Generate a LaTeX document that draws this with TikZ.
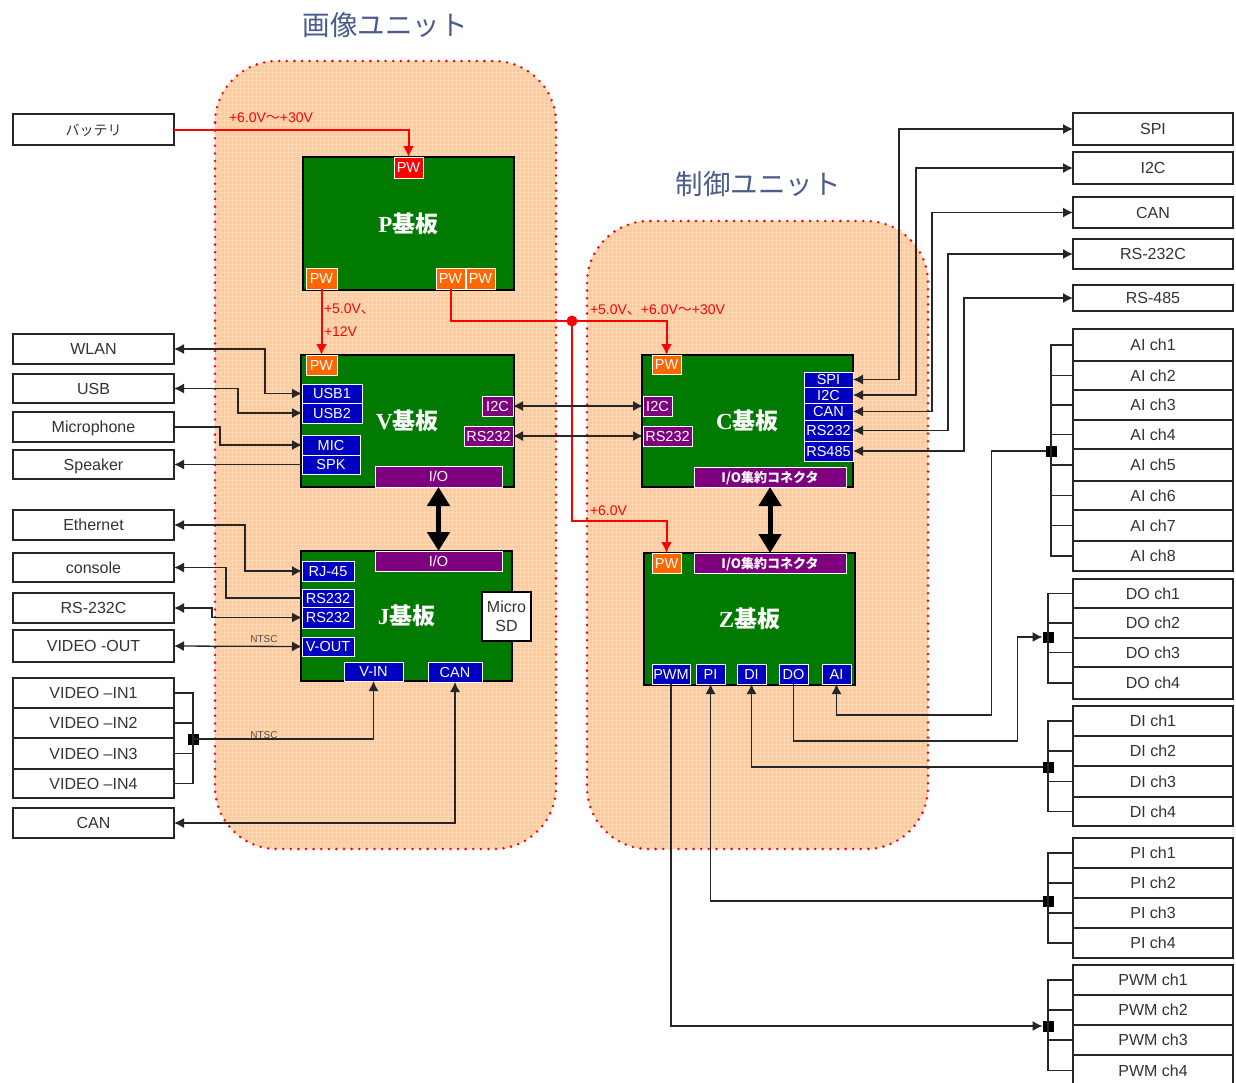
\documentclass[tikz,border=0pt]{standalone}
\usepackage{fontspec}
\usetikzlibrary{arrows.meta}
\setmainfont{Liberation Sans}
\newfontfamily\cjk{Noto Sans CJK JP}
\newfontfamily\srf{Liberation Serif}
\newcommand\fs[1]{\fontsize{#1}{#1}\selectfont}
\newcommand\brd[1]{{\fs{23}\bfseries\srf #1\cjk 基板}}
\definecolor{unitfill}{HTML}{FDCB9D}
\definecolor{boardg}{HTML}{007A00}
\definecolor{portb}{HTML}{0000C0}
\definecolor{portp}{HTML}{7F007F}
\definecolor{porto}{HTML}{FF6600}
\definecolor{titlec}{HTML}{4A5B8C}
\newcommand\bx[7][]{%
  \pgfmathsetmacro\bxw{#5-#3}\pgfmathsetmacro\bxh{#6-#4}%
  \node[#1,anchor=north west,minimum width=\bxw pt,minimum height=\bxh pt] (#2) at (#3,#4) {#7};}
\newcommand\unitdeco[1]{%
  \begin{scope}
    \clip[rounded corners=62pt] (#1.north west) rectangle (#1.south east);
    \draw[gridline] (#1.north west) grid (#1.south east);
  \end{scope}
  \draw[unitline] (#1.north west) rectangle (#1.south east);}
\tikzset{
  base/.style={inner sep=0pt,outer sep=0pt,align=center},
  unit/.style={base,fill=unitfill,rounded corners=62pt},
  unitline/.style={draw=red,line width=2.8pt,line cap=round,dash pattern=on 0pt off 7.6pt,rounded corners=62pt},
  gridline/.style={draw=white,opacity=.22,line width=1pt,step=4pt},
  board/.style={base,draw=black,fill=boardg,line width=1.4pt,text=white},
  extbox/.style={base,draw=black!85,fill=white,line width=1.5pt,font=\fs{16},text=black!80,text height=11.5pt,text depth=0pt},
  port/.style={base,draw=white,line width=.9pt,text=white,font=\fs{14.5},text height=10.4pt,text depth=0pt},
  blue port/.style={port,fill=portb},
  purple port/.style={port,fill=portp},
  orange port/.style={port,fill=porto},
  red port/.style={port,fill=red},
  white port/.style={base,draw=black,fill=white,line width=1.4pt,text=black!80,font=\fs{16}},
  busdot/.style={base,fill=black,minimum size=11pt},
  reddot/.style={base,circle,fill=red,minimum size=11pt},
  conn/.style={draw=black!85,line width=1.3pt},
  both/.style={conn,{Latex[length=10pt,width=10pt]}-{Latex[length=10pt,width=10pt]}},
  tohead/.style={conn,-{Latex[length=10pt,width=10pt]}},
  pwr/.style={draw=red,line width=2pt,-{Latex[length=11pt,width=11pt]}},
  pwrplain/.style={draw=red,line width=2pt},
  bus/.style={draw=black,{Triangle[length=19pt,width=22pt]}-{Triangle[length=19pt,width=22pt]},line width=5pt},
  redlab/.style={base,text=red,font=\fs{14},anchor=west},
  ntsc/.style={base,text=black!70,font=\fs{10}},
  title/.style={base,text=titlec,font=\cjk\fs{27.5}}
}
\begin{document}
\begin{tikzpicture}[x=1pt,y=-1pt]
\useasboundingbox (0,0) rectangle (1236,1082);
\clip (0,0) rectangle (1236,1082);
% units
\bx[unit]{unitL}{215}{61}{556}{849}{}
\bx[unit]{unitR}{587}{221}{928}{849}{}
\unitdeco{unitL}
\unitdeco{unitR}
\node[title] (tL) at (385,25) {画像ユニット};
\node[title] (tR) at (758,184) {制御ユニット};
% left external
\bx[extbox,font=\cjk\fs{14}]{bat}{13}{114}{174}{145}{バッテリ}
\bx[extbox]{wlan}{13}{334}{174}{364}{WLAN}
\bx[extbox]{usb}{13}{374}{174}{403}{USB}
\bx[extbox]{mic}{13}{412}{174}{442}{Microphone}
\bx[extbox]{spk}{13}{450}{174}{479}{Speaker}
\bx[extbox]{eth}{13}{510}{174}{540}{Ethernet}
\bx[extbox]{con}{13}{553}{174}{582}{console}
\bx[extbox]{rsl}{13}{593}{174}{623}{RS-232C}
\bx[extbox]{vou}{13}{630}{174}{662}{VIDEO -OUT}
\bx[extbox]{vi1}{13}{678}{174}{708}{VIDEO –IN1}
\bx[extbox]{vi2}{13}{708}{174}{738}{VIDEO –IN2}
\bx[extbox]{vi3}{13}{738}{174}{769}{VIDEO –IN3}
\bx[extbox]{vi4}{13}{769}{174}{798}{VIDEO –IN4}
\bx[extbox]{canl}{13}{808}{174}{838}{CAN}
% right external
\bx[extbox]{rspi}{1073}{113}{1233}{145}{SPI}
\bx[extbox]{ri2c}{1073}{152}{1233}{184}{I2C}
\bx[extbox]{rcan}{1073}{197}{1233}{228}{CAN}
\bx[extbox]{r232}{1073}{239}{1233}{269}{RS-232C}
\bx[extbox]{r485}{1073}{285}{1233}{311}{RS-485}
\foreach \i/\a/\b in {1/329/361,2/361/390,3/390/420,4/420/449,5/449/481,6/481/510,7/510/541,8/541/571}
  {\bx[extbox]{ai\i}{1073}{\a}{1233}{\b}{AI ch\i}}
\foreach \i/\a/\b in {1/579/608,2/608/638,3/638/667,4/667/699}
  {\bx[extbox]{do\i}{1073}{\a}{1233}{\b}{DO ch\i}}
\foreach \i/\a/\b in {1/706/736,2/736/766,3/766/797,4/797/826}
  {\bx[extbox]{di\i}{1073}{\a}{1233}{\b}{DI ch\i}}
\foreach \i/\a/\b in {1/838/868,2/868/898,3/898/928,4/928/958}
  {\bx[extbox]{pi\i}{1073}{\a}{1233}{\b}{PI ch\i}}
\foreach \i/\a/\b in {1/965/995,2/995/1025,3/1025/1055,4/1055/1086}
  {\bx[extbox]{pm\i}{1073}{\a}{1233}{\b}{PWM ch\i}}
% P board
\bx[board]{bP}{303}{157}{514}{290}{\brd{P}}
\bx[red port]{pwP}{394}{157}{423}{178}{PW}
\bx[orange port]{pwP1}{306}{268}{337}{289}{PW}
\bx[orange port]{pwP2}{436}{268}{465}{289}{PW}
\bx[orange port]{pwP3}{466}{268}{495}{289}{PW}
% V board
\bx[board]{bV}{301}{355}{514}{487}{\brd{V}}
\bx[orange port]{pwV}{306}{355}{337}{375}{PW}
\bx[blue port]{usb1}{302}{384}{362}{403}{USB1}
\bx[blue port]{usb2}{302}{403}{362}{423}{USB2}
\bx[blue port]{vmic}{302}{435}{360}{455}{MIC}
\bx[blue port]{vspk}{302}{455}{360}{474}{SPK}
\bx[purple port]{vi2c}{482}{396}{513}{416}{I2C}
\bx[purple port]{v232}{464}{426}{513}{446}{RS232}
\bx[purple port]{vio}{375}{466}{502}{487}{I/O}
% J board
\bx[board]{bJ}{301}{551}{512}{681}{\brd{J}}
\bx[purple port]{jio}{375}{551}{502}{571}{I/O}
\bx[blue port]{rj45}{302}{561}{354}{581}{RJ-45}
\bx[blue port]{j1}{302}{589}{354}{607}{RS232}
\bx[blue port]{j2}{302}{607}{354}{628}{RS232}
\bx[blue port]{jvo}{302}{637}{354}{656}{V-OUT}
\bx[blue port]{jvi}{344}{662}{403}{681}{V-IN}
\bx[blue port]{jcan}{428}{662}{482}{682}{CAN}
\bx[white port]{sd}{482}{592}{531}{641}{Micro\\[3pt]SD}
% C board
\bx[board]{bC}{642}{355}{853}{487}{\brd{C}}
\bx[orange port]{pwC}{652}{355}{681}{374}{PW}
\bx[purple port]{ci2c}{643}{396}{672}{416}{I2C}
\bx[purple port]{c232}{643}{426}{692}{446}{RS232}
\bx[purple port,font=\cjk\fs{13}\bfseries]{cio}{694}{467}{846}{487}{I/O集約コネクタ}
\bx[blue port]{cspi}{804}{372}{853}{387}{SPI}
\bx[blue port]{cic}{804}{387}{853}{403}{I2C}
\bx[blue port]{ccan}{804}{403}{853}{420}{CAN}
\bx[blue port]{crs2}{804}{420}{853}{441}{RS232}
\bx[blue port]{crs4}{804}{441}{853}{461}{RS485}
% Z board
\bx[board]{bZ}{644}{553}{855}{685}{\brd{Z}}
\bx[orange port]{pwZ}{652}{553}{681}{573}{PW}
\bx[purple port,font=\cjk\fs{13}\bfseries]{zio}{694}{553}{846}{573}{I/O集約コネクタ}
\bx[blue port]{zpw}{652}{664}{690}{684}{PWM}
\bx[blue port]{zpi}{696}{664}{725}{684}{PI}
\bx[blue port]{zdi}{737}{664}{766}{684}{DI}
\bx[blue port]{zdo}{779}{664}{808}{684}{DO}
\bx[blue port]{zai}{822}{664}{851}{684}{AI}
% bus squares
\node[busdot] (sqV) at (193,739) {};
\node[busdot] (sqA) at (1051,451) {};
\node[busdot] (sqD) at (1048,637) {};
\node[busdot] (sqI) at (1048,767) {};
\node[busdot] (sqP) at (1048,901) {};
\node[busdot] (sqW) at (1048,1026) {};
\node[reddot] (jn) at (572,321) {};
% power
\draw[pwr] (bat.east) -| (pwP.north);
\draw[pwr] (pwP1.south) -- (pwV.north);
\draw[pwrplain] (pwP2.south) |- (jn.center);
\draw[pwr] (jn.center) -| (pwC.north);
\draw[pwr] (jn.center) -- ++(0,200) -| (pwZ.north);
\node[redlab] (l1) at (229,118) {+6.0V{\cjk ～}+30V};
\node[redlab] (l2) at (324,309) {+5.0V{\cjk 、}};
\node[redlab] (l3) at (324,332) {+12V};
\node[redlab] (l4) at (590,310) {+5.0V{\cjk 、}+6.0V{\cjk ～}+30V};
\node[redlab] (l5) at (590,511) {+6.0V};
% left connectors
\draw[both] (wlan.east) -- ++(91,0) |- (usb1.west);
\draw[both] (usb.east) -- ++(64,0) |- (usb2.west);
\draw[tohead] (mic.east) -- ++(46,0) |- (vmic.west);
\draw[tohead] (vspk.west) -- (spk.east);
\draw[both] (eth.east) -- ++(71,0) |- (rj45.west);
\draw[tohead] (j1.west) -| ([xshift=52pt]con.east) -- (con.east);
\draw[both] (rsl.east) -- ++(38,0) |- (j2.west);
\draw[both] (vou.east) -- (jvo.west);
\node[ntsc] (n1) at (264,639) {NTSC};
\foreach \i in {1,...,4} \draw[conn] (vi\i.east) -| (sqV.center);
\draw[tohead] (sqV.center) -| (jvi.south);
\node[ntsc] (n2) at (264,735) {NTSC};
\draw[both] (canl.east) -| (jcan.south);
% board to board
\draw[both] (vi2c.east) -- (ci2c.west);
\draw[both] (v232.east) -- (c232.west);
\draw[bus] (vio.south) -- (jio.north);
\draw[bus] (cio.south) -- (zio.north);
% right connectors
\draw[both] (cspi.east) -- ++(46,0) |- (rspi.west);
\draw[both] (cic.east) -- ++(63,0) |- (ri2c.west);
\draw[both] (ccan.east) -- ++(79,0) |- (rcan.west);
\draw[both] (crs2.east) -- ++(95,0) |- (r232.west);
\draw[both] (crs4.east) -- ++(111,0) |- (r485.west);
\foreach \i in {1,...,8} \draw[conn] (ai\i.west) -| (sqA.center);
\foreach \i in {1,...,4} {
  \draw[conn] (do\i.west) -| (sqD.center);
  \draw[conn] (di\i.west) -| (sqI.center);
  \draw[conn] (pi\i.west) -| (sqP.center);
  \draw[conn] (pm\i.west) -| (sqW.center);
}
\draw[tohead] (sqA.west) -- ++(-54,0) |- ([yshift=-31pt]zai.south) -- (zai.south);
\draw[tohead] (zdo.south) |- ++(224,57) |- (sqD.west);
\draw[tohead] (sqI.west) -| (zdi.south);
\draw[tohead] (sqP.west) -| (zpi.south);
\draw[tohead] (zpw.south) |- (sqW.west);
\end{tikzpicture}
\end{document}
